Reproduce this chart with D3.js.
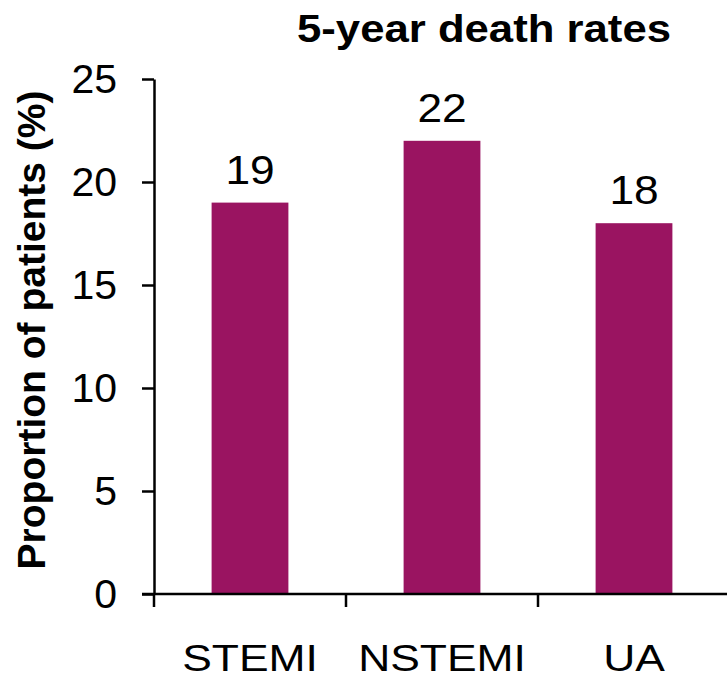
<html>
<title>5-year death rates</title>
<script src="https://d3js.org/d3.v7.min.js"></script>
<style>
  body { margin: 0; background: #fff; }
  text { font-family: "Liberation Sans", Arial, sans-serif; fill: #000; }
</style>
<body>
<div id="chart"></div>
<script>
var categories = ["STEMI", "NSTEMI", "UA"];
var values = [19, 22, 18];
var yTicks = [0, 5, 10, 15, 20, 25];

var width = 727, height = 680;
var mLeft = 154, mRight = 730, mTop = 79, mBottom = 594;

var svg = d3.select("#chart").append("svg")
    .attr("width", width)
    .attr("height", height);

var xs = d3.scaleBand().domain(categories).range([mLeft, mRight]).padding(0);
var ys = d3.scaleLinear().domain([0, 25]).range([mBottom, mTop]);

// bars
var bw = xs.bandwidth() * 0.4;
svg.selectAll("rect").data(values).enter().append("rect")
    .attr("x", function(d, i) { return xs(categories[i]) + xs.bandwidth() / 2 - bw / 2; })
    .attr("y", function(d) { return ys(d); })
    .attr("width", bw)
    .attr("height", function(d) { return mBottom - ys(d); })
    .attr("fill", "#9a1461");

// value labels
svg.selectAll(".val").data(values).enter().append("text")
    .attr("class", "val")
    .attr("transform", function(d, i) {
        return "translate(" + (xs(categories[i]) + xs.bandwidth() / 2) + "," + (ys(d) - 19) + ") scale(1.08,1)";
    })
    .attr("text-anchor", "middle")
    .style("font-size", "41px")
    .text(function(d) { return d; });

// y axis
var yAxis = svg.append("g")
    .attr("transform", "translate(" + mLeft + ",0)")
    .call(d3.axisLeft(ys).tickValues(yTicks).tickSize(12).tickPadding(25).tickSizeOuter(0));
yAxis.select(".domain").attr("stroke", "#000").attr("stroke-width", 2.5);
yAxis.selectAll(".tick line").attr("stroke", "#000").attr("stroke-width", 2.5);
yAxis.selectAll(".tick text").style("font-size", "41px").attr("font-family", null);

// x axis: line plus ticks at the band edges
var xg = svg.append("g");
xg.append("line")
    .attr("x1", mLeft - 12).attr("x2", mRight)
    .attr("y1", mBottom).attr("y2", mBottom)
    .attr("stroke", "#000").attr("stroke-width", 2.5);
var edges = categories.map(function(c) { return xs(c); }).concat([xs.range()[1]]);
xg.selectAll(".edge").data(edges).enter().append("line")
    .attr("class", "edge")
    .attr("x1", function(d) { return d; }).attr("x2", function(d) { return d; })
    .attr("y1", mBottom).attr("y2", mBottom + 13)
    .attr("stroke", "#000").attr("stroke-width", 2.5);
xg.selectAll(".cat").data(categories).enter().append("text")
    .attr("class", "cat")
    .attr("transform", function(d) {
        return "translate(" + (xs(d) + xs.bandwidth() / 2) + ",671) scale(1.2,1)";
    })
    .attr("text-anchor", "middle")
    .style("font-size", "37px")
    .text(function(d) { return d; });

// titles
svg.append("text")
    .attr("transform", "translate(484,42) scale(1.15,1)")
    .attr("text-anchor", "middle")
    .attr("font-weight", "bold")
    .style("font-size", "38px")
    .text("5-year death rates");

svg.append("text")
    .attr("transform", "translate(45,330) rotate(-90)")
    .attr("text-anchor", "middle")
    .attr("font-weight", "bold")
    .style("font-size", "39px")
    .text("Proportion of patients (%)");
</script>
</body>
</html>
